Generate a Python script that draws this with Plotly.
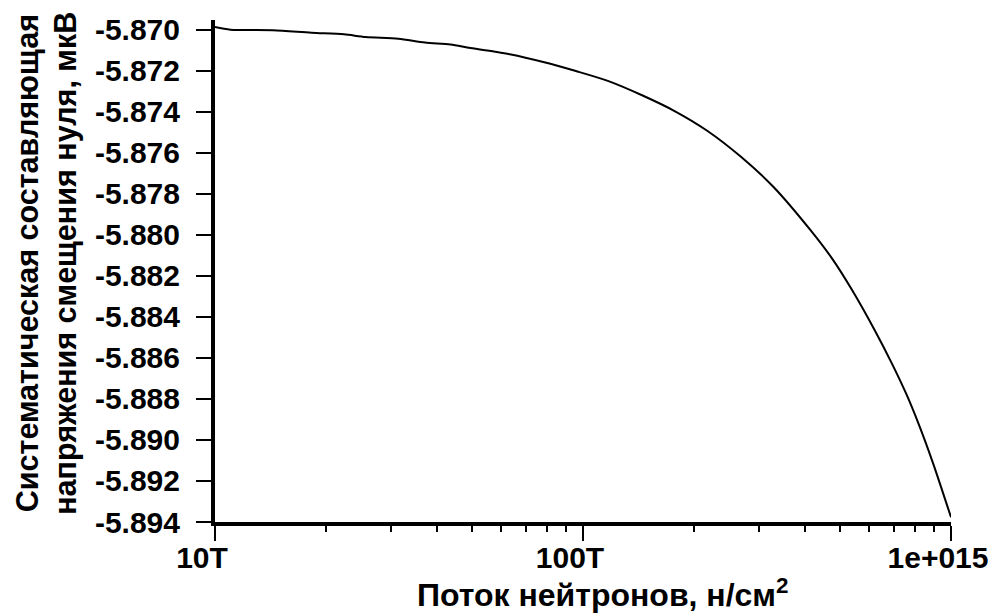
import plotly.graph_objects as go

# Data
flux = [1.0e13, 1.102e13, 1.437e13, 1.828e13, 2.241e13, 2.567e13, 3.148e13, 3.719e13,
        4.366e13, 4.94e13, 5.837e13, 6.324e13, 7.8e13, 9.565e13, 1.173e14, 1.447e14,
        1.774e14, 2.175e14, 2.682e14, 3.289e14, 4.157e14, 4.764e14, 5.39e14, 6.21e14,
        6.9e14, 7.57e14, 8.15e14, 8.94e14, 1.0e15]
voltage = [-5.86986, -5.86999, -5.87002, -5.87014, -5.87022, -5.87035, -5.87043, -5.87062,
           -5.87071, -5.87089, -5.87108, -5.87119, -5.87157, -5.87201, -5.87250, -5.87319,
           -5.87396, -5.87492, -5.87618, -5.87765, -5.87978, -5.88118, -5.88270, -5.88466,
           -5.88625, -5.88778, -5.88918, -5.89114, -5.89377]

x_tick_vals = [1e13, 1e14, 1e15]
x_tick_text = ["10T", "100T", "1e+015"]
x_minor_vals = [2e13, 3e13, 4e13, 5e13, 6e13, 7e13, 8e13, 9e13,
                2e14, 3e14, 4e14, 5e14, 6e14, 7e14, 8e14, 9e14]
y_tick_vals = [-5.870, -5.872, -5.874, -5.876, -5.878, -5.880, -5.882,
               -5.884, -5.886, -5.888, -5.890, -5.892, -5.894]
y_tick_text = ["-5.870", "-5.872", "-5.874", "-5.876", "-5.878", "-5.880", "-5.882",
               "-5.884", "-5.886", "-5.888", "-5.890", "-5.892", "-5.894"]

x_title = "Поток нейтронов, н/см<sup>2</sup>"
y_title_lines = ["Систематическая составляющая", "напряжения смещения нуля, мкВ"]

FONT = "Liberation Sans, Arial, sans-serif"

fig = go.Figure()
fig.add_trace(go.Scatter(x=flux, y=voltage, mode="lines",
                         line=dict(color="black", width=2, shape="spline", smoothing=0.8),
                         showlegend=False))

fig.update_layout(
    width=1000, height=613,
    margin=dict(l=215, r=40, t=20, b=91),
    paper_bgcolor="white", plot_bgcolor="white",
    font=dict(family=FONT, size=30, color="black"),
    showlegend=False,
)

fig.update_xaxes(
    type="log", range=[13, 15],
    showgrid=False, zeroline=False,
    showline=True, linecolor="black", linewidth=4,
    tickmode="array", tickvals=x_tick_vals, ticktext=x_tick_text,
    ticks="outside", ticklen=15, tickwidth=1.5, tickcolor="black",
    ticklabelshift=-13, ticklabelstandoff=-9,
    tickfont=dict(family=FONT, size=30, color="black", weight="bold"),
    minor=dict(tickmode="array", tickvals=x_minor_vals, ticks="outside",
               ticklen=6, tickwidth=1.5, tickcolor="black", showgrid=False),
)

fig.update_yaxes(
    range=[-5.894, -5.86952],
    showgrid=False, zeroline=False,
    showline=True, linecolor="black", linewidth=4,
    tickmode="array", tickvals=y_tick_vals, ticktext=y_tick_text,
    ticks="outside", ticklen=15, tickwidth=1.5, tickcolor="black",
    ticklabelstandoff=10,
    tickfont=dict(family=FONT, size=30, color="black", weight="bold"),
)

fig.add_annotation(
    text=x_title, xref="paper", yref="paper",
    x=(607 - 215) / 745, y=(522 - 593) / 502,
    xanchor="center", yanchor="middle", showarrow=False,
    font=dict(family=FONT, size=32, color="black", weight="bold"),
)
for line_text, xc in zip(y_title_lines, [25, 63]):
    fig.add_annotation(
        text=line_text, xref="paper", yref="paper",
        x=(xc - 215) / 745, y=(522 - 263) / 502,
        xanchor="center", yanchor="middle", showarrow=False, textangle=-90,
        font=dict(family=FONT, size=30.5, color="black", weight="bold"),
    )

fig.write_html("out.html")
